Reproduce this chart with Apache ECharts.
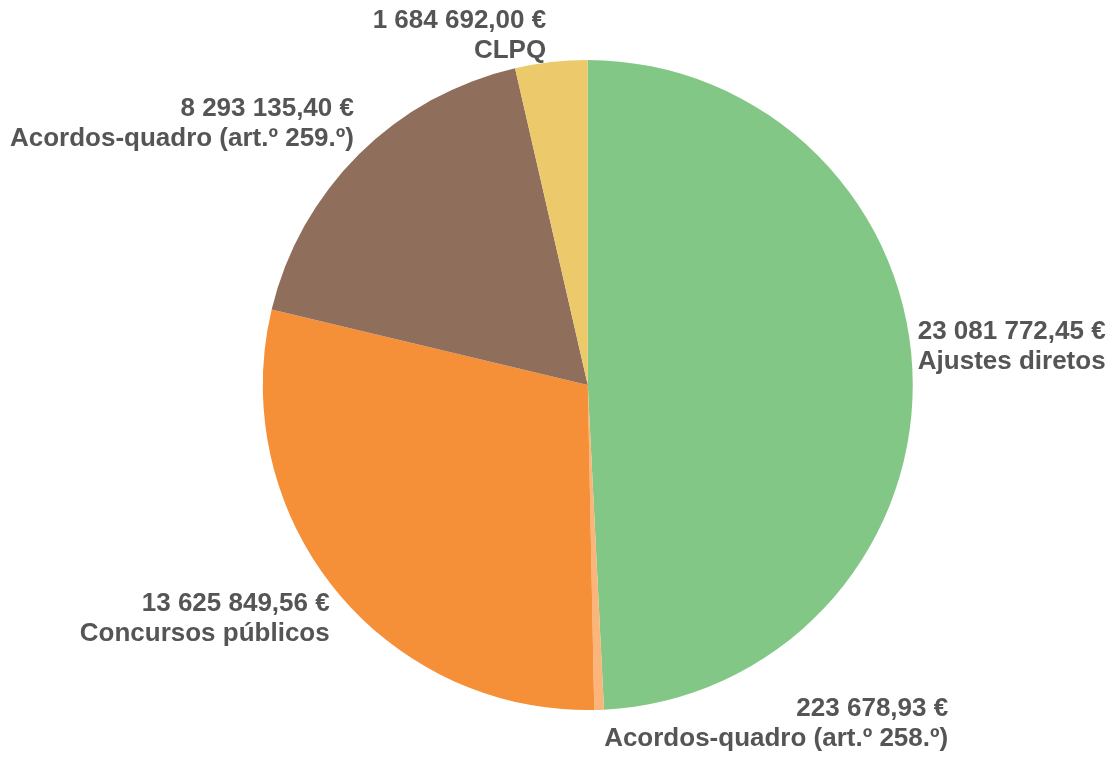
<!DOCTYPE html>
<html>
<head>
<meta charset="utf-8">
<title>Procedimentos</title>
<script src="https://cdn.jsdelivr.net/npm/echarts@6/dist/echarts.min.js"></script>
<style>
  html, body { margin: 0; padding: 0; background: #fff; }
  #chart { width: 1109px; height: 758px; }
</style>
</head>
<body>
<div id="chart"></div>
<script>
// dados (valores em euros)
var categories = [
  "Ajustes diretos",
  "Acordos-quadro (art.º 258.º)",
  "Concursos públicos",
  "Acordos-quadro (art.º 259.º)",
  "CLPQ"
];
var values = [23081772.45, 223678.93, 13625849.56, 8293135.40, 1684692.00];
var colors = ["#82C785", "#FBB47A", "#F59038", "#8F6E5C", "#ECC96A"];

// 23 081 772,45 €
function fmtEuro(v) {
  var parts = v.toFixed(2).split(".");
  var intPart = parts[0].replace(/\B(?=(\d{3})+(?!\d))/g, " ");
  return intPart + "," + parts[1] + " €";
}

var chart = echarts.init(document.getElementById("chart"));
var H = 758;
var cy = H * 0.508;

var option = {
  animation: false,
  series: [
    {
      type: "pie",
      center: ["53%", "50.8%"],
      radius: 325,
      startAngle: 90,
      clockwise: true,
      avoidLabelOverlap: false,
      itemStyle: { borderWidth: 0 },
      label: {
        show: true,
        position: "outside",
        overflow: "none",
        fontFamily: "Liberation Sans, Arial, sans-serif",
        fontWeight: "bold",
        fontSize: 26,
        lineHeight: 30,
        color: "#555555",
        distanceToLabelLine: 5,
        formatter: function (p) {
          return fmtEuro(p.value) + "\n" + p.name;
        }
      },
      labelLine: { show: false, length: 0, length2: 0 },
      // empurra o texto para fora do círculo, alinhado à direita
      labelLayout: function (p) {
        var r = p.labelRect;
        var up = r.y + r.height / 2 < cy;
        var dy = (up ? -1 : 1) * r.height / 2;
        var bottom = r.y + r.height + dy;
        if (bottom > H - 4) dy -= bottom - (H - 4);
        var top = r.y + dy;
        if (top < 6) dy += 6 - top;
        return {
          align: "right",
          dx: p.align === "left" ? r.width : 0,
          dy: dy
        };
      },
      data: categories.map(function (c, i) {
        return { name: c, value: values[i], itemStyle: { color: colors[i] } };
      })
    }
  ]
};

chart.setOption(option);
</script>
</body>
</html>
